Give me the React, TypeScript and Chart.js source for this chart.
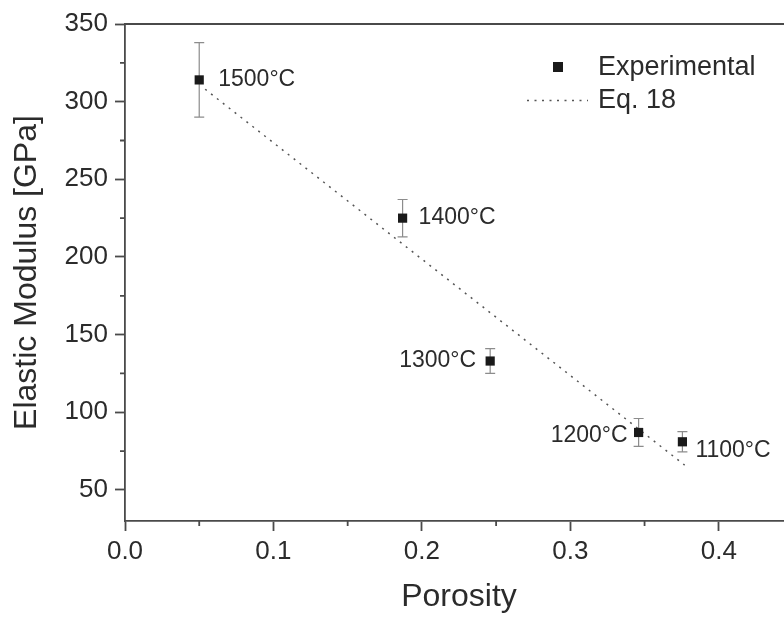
import React, { useEffect, useRef } from "react";
import { Chart, registerables } from "chart.js";

Chart.register(...registerables);

// ---- data ----
const POROSITY = [0.05, 0.187, 0.246, 0.346, 0.3755];
const MODULUS = [314, 225, 133, 87, 81];
const MODULUS_ERR = [24, 12, 8, 9, 6.5];
const TEMPERATURE_LABELS = ["1500°C", "1400°C", "1300°C", "1200°C", "1100°C"];
const FIT_POROSITY = [0.054, 0.377];
const FIT_MODULUS = [308, 66];
const X_TICK_VALUES = [0, 0.1, 0.2, 0.3, 0.4];
const X_TICK_LABELS = ["0.0", "0.1", "0.2", "0.3", "0.4"];
const X_MINOR_TICKS = [0.05, 0.15, 0.25, 0.35];
const Y_TICK_VALUES = [50, 100, 150, 200, 250, 300, 350];
const Y_TICK_LABELS = ["50", "100", "150", "200", "250", "300", "350"];
const Y_MINOR_TICKS = [75, 125, 175, 225, 275, 325];
const SERIES_NAMES = ["Experimental", "Eq. 18"];

// ---- styles ----
const FONT = "'Liberation Sans', Arial, Helvetica, sans-serif";
const TEXT = "#2b2b2b";
const AXIS = "#4a4a4a";
const AXIS_W = 1.8;
const ERR_COLOR = "#8c8c8c";
const MARK = "#1a1a1a";
const FIT_COLOR = "#555555";
const DASH = [2, 5.5];
const LABEL_STYLE = [
  { align: "left", dx: 19, dy: 0 },
  { align: "left", dx: 16, dy: 0 },
  { align: "right", dx: -14, dy: 0 },
  { align: "right", dx: -11, dy: 3 },
  { align: "left", dx: 13, dy: 9 },
];

const errorBarPlugin = {
  id: "errorBars",
  beforeDatasetsDraw(chart: any) {
    const xs = chart.scales.x;
    const ys = chart.scales.y;
    const ctx = chart.ctx;
    ctx.save();
    ctx.strokeStyle = ERR_COLOR;
    ctx.lineWidth = 1.2;
    POROSITY.forEach((p, i) => {
      const x = xs.getPixelForValue(p);
      const yt = ys.getPixelForValue(MODULUS[i] + MODULUS_ERR[i]);
      const yb = ys.getPixelForValue(MODULUS[i] - MODULUS_ERR[i]);
      ctx.beginPath();
      ctx.moveTo(x, yt);
      ctx.lineTo(x, yb);
      ctx.moveTo(x - 5, yt);
      ctx.lineTo(x + 5, yt);
      ctx.moveTo(x - 5, yb);
      ctx.lineTo(x + 5, yb);
      ctx.stroke();
    });
    ctx.restore();
  },
};

const pointLabelPlugin = {
  id: "pointLabels",
  afterDatasetsDraw(chart: any) {
    const xs = chart.scales.x;
    const ys = chart.scales.y;
    const ctx = chart.ctx;
    ctx.save();
    ctx.font = `23px ${FONT}`;
    ctx.fillStyle = TEXT;
    ctx.textBaseline = "middle";
    TEMPERATURE_LABELS.forEach((t, i) => {
      const st = LABEL_STYLE[i];
      const x = xs.getPixelForValue(POROSITY[i]);
      const y = ys.getPixelForValue(MODULUS[i]);
      ctx.textAlign = st.align as CanvasTextAlign;
      ctx.fillText(t, x + st.dx, y + st.dy);
    });
    ctx.restore();
  },
};

const framePlugin = {
  id: "frameAndLegend",
  afterDraw(chart: any) {
    const { ctx, chartArea } = chart;
    const xs = chart.scales.x;
    const ys = chart.scales.y;
    ctx.save();
    ctx.strokeStyle = AXIS;
    ctx.lineWidth = AXIS_W;
    ctx.beginPath();
    ctx.moveTo(chartArea.left, chartArea.top);
    ctx.lineTo(chartArea.right, chartArea.top);
    ctx.lineTo(chartArea.right, chartArea.bottom);
    // minor ticks
    X_MINOR_TICKS.forEach((v) => {
      const x = xs.getPixelForValue(v);
      ctx.moveTo(x, chartArea.bottom);
      ctx.lineTo(x, chartArea.bottom + 5);
    });
    Y_MINOR_TICKS.forEach((v) => {
      const y = ys.getPixelForValue(v);
      ctx.moveTo(chartArea.left, y);
      ctx.lineTo(chartArea.left - 5, y);
    });
    ctx.stroke();

    // legend
    ctx.fillStyle = MARK;
    ctx.fillRect(553, 62, 10, 10);
    ctx.strokeStyle = FIT_COLOR;
    ctx.lineWidth = 1.5;
    ctx.setLineDash(DASH);
    ctx.beginPath();
    ctx.moveTo(527, 100.5);
    ctx.lineTo(588, 100.5);
    ctx.stroke();
    ctx.setLineDash([]);
    ctx.fillStyle = TEXT;
    ctx.font = `27px ${FONT}`;
    ctx.textAlign = "left";
    ctx.textBaseline = "middle";
    ctx.fillText(SERIES_NAMES[0], 598, 68);
    ctx.fillText(SERIES_NAMES[1], 598, 101);
    ctx.restore();
  },
};

export default function App() {
  const ref = useRef<HTMLCanvasElement | null>(null);

  useEffect(() => {
    if (!ref.current) return;
    const chart = new Chart(ref.current, {
      type: "scatter",
      data: {
        datasets: [
          {
            label: SERIES_NAMES[0],
            data: POROSITY.map((p, i) => ({ x: p, y: MODULUS[i] })),
            pointStyle: "rect",
            pointRadius: 6.5,
            backgroundColor: MARK,
            borderColor: MARK,
            borderWidth: 0,
            showLine: false,
            order: 0,
          },
          {
            type: "line",
            label: SERIES_NAMES[1],
            data: FIT_POROSITY.map((p, i) => ({ x: p, y: FIT_MODULUS[i] })),
            borderColor: FIT_COLOR,
            borderWidth: 1.5,
            borderDash: DASH,
            pointRadius: 0,
            fill: false,
            order: 1,
          } as any,
        ],
      },
      options: {
        animation: false,
        responsive: false,
        events: [],
        layout: { padding: { top: 24, right: 7, left: 0, bottom: 0 } },
        plugins: {
          legend: { display: false },
          tooltip: { enabled: false },
        },
        scales: {
          x: {
            type: "linear",
            min: 0,
            max: 0.45,
            afterBuildTicks: (s: any) => {
              s.ticks = X_TICK_VALUES.map((v) => ({ value: v }));
            },
            afterFit: (s: any) => {
              s.height = 98;
            },
            ticks: {
              autoSkip: false,
              maxRotation: 0,
              padding: 5,
              color: TEXT,
              font: { size: 26, family: FONT },
              callback: (_v: any, i: number) => X_TICK_LABELS[i],
            },
            grid: {
              drawOnChartArea: false,
              tickLength: 10,
              tickWidth: AXIS_W,
              tickColor: AXIS,
            },
            border: { display: true, color: AXIS, width: AXIS_W },
            title: {
              display: true,
              text: "Porosity",
              color: TEXT,
              font: { size: 32, family: FONT },
              padding: { top: 0, bottom: 3 },
            },
          },
          y: {
            type: "linear",
            min: 30,
            max: 350,
            afterBuildTicks: (s: any) => {
              s.ticks = Y_TICK_VALUES.map((v) => ({ value: v }));
            },
            afterFit: (s: any) => {
              s.width = 125;
            },
            ticks: {
              autoSkip: false,
              padding: 7,
              color: TEXT,
              font: { size: 26, family: FONT },
              callback: (_v: any, i: number) => Y_TICK_LABELS[i],
            },
            grid: {
              drawOnChartArea: false,
              tickLength: 10,
              tickWidth: AXIS_W,
              tickColor: AXIS,
            },
            border: { display: true, color: AXIS, width: AXIS_W },
            title: {
              display: true,
              text: "Elastic Modulus [GPa]",
              color: TEXT,
              font: { size: 32, family: FONT },
              padding: { top: 8, bottom: 0 },
            },
          },
        },
      },
      plugins: [errorBarPlugin, pointLabelPlugin, framePlugin],
    });
    return () => chart.destroy();
  }, []);

  return (
    <div
      style={{
        position: "fixed",
        left: 0,
        top: 0,
        width: 784,
        height: 619,
        overflow: "hidden",
        background: "#fff",
      }}
    >
      <canvas ref={ref} width={800} height={619} style={{ display: "block" }} />
    </div>
  );
}
